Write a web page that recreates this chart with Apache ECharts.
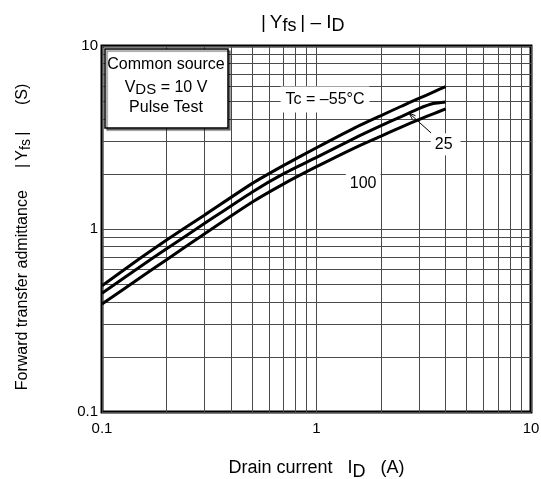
<!DOCTYPE html>
<html>
<head>
<meta charset="utf-8">
<script src="https://cdn.jsdelivr.net/npm/echarts@6/dist/echarts.min.js"></script>
<style>
  html, body { margin: 0; padding: 0; background: #fff; }
  #chart { width: 541px; height: 479px; }
</style>
</head>
<body>
<div id="chart"></div>
<script>
// drain current I_D (A)
const drainCurrent = [0.1, 0.15, 0.2, 0.3, 0.5, 0.7, 1, 1.5, 2, 2.5, 3, 3.5, 4];
// |Yfs| (S) per case temperature
const yfsM55 = [0.49, 0.69, 0.87, 1.19, 1.77, 2.22, 2.78, 3.56, 4.17, 4.7, 5.17, 5.6, 6.0];
const yfs25 = [0.445, 0.62, 0.78, 1.07, 1.59, 2.0, 2.46, 3.13, 3.67, 4.13, 4.55, 4.85, 4.95];
const yfs100 = [0.389, 0.54, 0.68, 0.94, 1.4, 1.76, 2.19, 2.77, 3.22, 3.62, 3.96, 4.26, 4.53];

// minor grid positions (log paper)
const xMinorGrid = [0.2, 0.3, 0.4, 0.5, 0.6, 0.7, 0.8, 0.9, 2, 3, 4, 5, 6, 7, 8, 9];
const yMinorGrid = [0.2, 0.3, 0.4, 0.5, 0.6, 0.7, 0.8, 0.9, 2, 3, 4, 5, 6, 7, 8, 9];

// curve labels, in data coordinates
const curveLabels = [
  { text: "Tc = –55°C", x: 1.096, y: 5.1, pad: [5, 5] },
  { text: "25", x: 4.0, y: 2.9, pad: [3, 8, 3, 4] },
  { text: "100", x: 1.65, y: 1.78, pad: [3, 4] },
];
const arrowFrom = [3.42, 3.35];
const arrowTo = [2.7, 4.3];

const FONT = "Liberation Sans, Arial, sans-serif";
const chart = echarts.init(document.getElementById("chart"));

const toPairs = (ys) => drainCurrent.map((x, i) => [x, ys[i]]);
const curve = (name, ys) => ({
  name,
  type: "line",
  data: toPairs(ys),
  smooth: 0.2,
  symbol: "none",
  lineStyle: { color: "#000", width: 3 },
  z: 5,
});

const gridLine = { color: "#4a4a4a", width: 1, type: "solid" };

chart.setOption({
  animation: false,
  grid: {
    left: 102, right: 10, top: 46, bottom: 67,
    outerBoundsMode: "none", containLabel: false,
    show: true, borderColor: "#000", borderWidth: 3,
  },
  xAxis: {
    type: "log", logBase: 10, min: 0.1, max: 10,
    name: "Drain current   I{sub|D}   (A)",
    nameLocation: "middle", nameGap: 43,
    nameTextStyle: {
      fontFamily: FONT, fontSize: 18, color: "#000",
      rich: { sub: { fontFamily: FONT, fontSize: 18, color: "#000", padding: [8, 0, 0, 0] } },
    },
    axisLine: { show: false },
    axisTick: { show: false },
    axisLabel: { fontFamily: FONT, fontSize: 15, color: "#000", margin: 9 },
    splitLine: { show: true, lineStyle: gridLine },
  },
  yAxis: {
    type: "log", logBase: 10, min: 0.1, max: 10,
    name: "Forward transfer admittance     |\u2009Y{sub|fs}\u2009|      (S)",
    nameLocation: "middle", nameGap: 69, nameRotate: 90,
    nameTextStyle: {
      fontFamily: FONT, fontSize: 16, color: "#000", padding: [0, 16, 0, 0],
      rich: { sub: { fontFamily: FONT, fontSize: 14, color: "#000", padding: [7, 0, 0, 0] } },
    },
    axisLine: { show: false },
    axisTick: { show: false },
    axisLabel: { fontFamily: FONT, fontSize: 15, color: "#000", margin: 4 },
    splitLine: { show: true, lineStyle: gridLine },
  },
  series: [
    {
      type: "line",
      data: [],
      silent: true,
      markLine: {
        silent: true,
        symbol: "none",
        label: { show: false },
        lineStyle: gridLine,
        emphasis: { disabled: true },
        data: xMinorGrid.map((v) => ({ xAxis: v }))
          .concat(yMinorGrid.map((v) => ({ yAxis: v }))),
      },
    },
    curve("-55", yfsM55),
    curve("25", yfs25),
    curve("100", yfs100),
  ],
});

// annotations placed through the chart's own scales
const px = (p) => chart.convertToPixel({ gridIndex: 0 }, p);
const a0 = px(arrowFrom);
const a1 = px(arrowTo);
const ang = Math.atan2(a1[1] - a0[1], a1[0] - a0[0]);
const head = 7;

const graphics = [
  {
    type: "text", left: 261, top: 13,
    style: {
      text: "|\u2009Y{sub|fs}\u2009| – I{sub|D}",
      font: "19px " + FONT, fill: "#000",
      rich: { sub: { fontSize: 18, fontFamily: FONT, fill: "#000", padding: [7, 0, 0, 0] } },
    },
  },
  // inset box
  {
    type: "rect",
    shape: { x: 105, y: 49, width: 123, height: 79 },
    style: { fill: "#fff", stroke: "#000", lineWidth: 1.5, shadowColor: "rgba(0,0,0,0.45)", shadowOffsetX: 2, shadowOffsetY: 2, shadowBlur: 1 },
    z: 20,
  },
  {
    type: "text", x: 166, y: 65, z: 21,
    style: { text: "Common source", font: "16px " + FONT, fill: "#000", align: "center", verticalAlign: "middle" },
  },
  {
    type: "text", x: 166, y: 88, z: 21,
    style: {
      text: "V{sub|DS} = 10 V", font: "16px " + FONT, fill: "#000", align: "center", verticalAlign: "middle",
      rich: { sub: { fontSize: 15, fontFamily: FONT, fill: "#000", padding: [4, 0, 0, 0] } },
    },
  },
  {
    type: "text", x: 166, y: 108, z: 21,
    style: { text: "Pulse Test", font: "16px " + FONT, fill: "#000", align: "center", verticalAlign: "middle" },
  },
  // arrow for 25
  {
    type: "line", z: 10,
    shape: { x1: a0[0], y1: a0[1], x2: a1[0], y2: a1[1] },
    style: { stroke: "#000", lineWidth: 1 },
  },
  {
    type: "polyline", z: 10,
    shape: {
      points: [
        [a1[0] - head * Math.cos(ang - 0.35), a1[1] - head * Math.sin(ang - 0.35)],
        [a1[0], a1[1]],
        [a1[0] - head * Math.cos(ang + 0.35), a1[1] - head * Math.sin(ang + 0.35)],
      ],
    },
    style: { stroke: "#000", lineWidth: 1, fill: null },
  },
];

curveLabels.forEach((l) => {
  const p = px([l.x, l.y]);
  graphics.push({
    type: "text", x: p[0], y: p[1], z: 8,
    style: {
      text: l.text, font: "16px " + FONT, fill: "#000",
      align: "center", verticalAlign: "middle",
      backgroundColor: "#fff", padding: l.pad,
    },
  });
});

chart.setOption({ graphic: graphics });
</script>
</body>
</html>
